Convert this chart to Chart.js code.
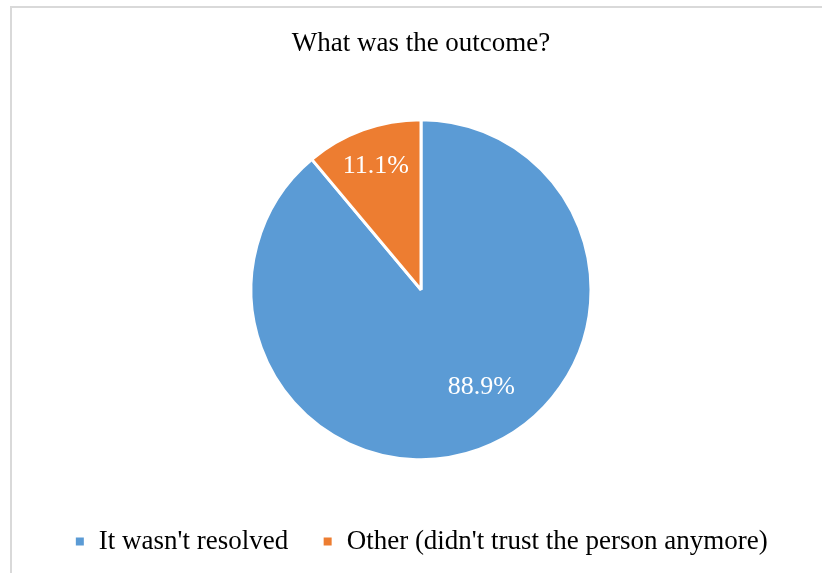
<!DOCTYPE html>
<html>
<head>
<meta charset="utf-8">
<script src="https://cdn.jsdelivr.net/npm/chart.js@4/dist/chart.umd.min.js"></script>
<style>
  html, body { margin: 0; padding: 0; background: #fff; }
  #wrap { position: relative; width: 822px; height: 573px; overflow: hidden; }
  #frame { position: absolute; left: 10px; top: 6px; width: 900px; height: 700px; border: 2px solid #d9d9d9; box-sizing: border-box; }
  #cv { position: absolute; left: 0; top: 0; }
</style>
</head>
<body>
<div id="wrap">
  <div id="frame"></div>
  <canvas id="cv" width="822" height="573"></canvas>
</div>
<script>
const chartTitle = 'What was the outcome?';
const categories = ["It wasn't resolved", "Other (didn't trust the person anymore)"];
const shares = [88.9, 11.1];
const sliceColors = ['#5B9BD5', '#ED7D31'];

const serif = '"Liberation Serif", "Times New Roman", serif';

// white percentage labels inside each slice
const sliceLabels = {
  id: 'sliceLabels',
  afterDatasetsDraw(chart, args, opts) {
    const ctx = chart.ctx;
    const meta = chart.getDatasetMeta(0);
    ctx.save();
    ctx.font = '26px ' + serif;
    ctx.fillStyle = '#fff';
    ctx.textAlign = 'center';
    ctx.textBaseline = 'middle';
    meta.data.forEach((arc, i) => {
      const p = arc.getProps(['x', 'y', 'startAngle', 'endAngle', 'outerRadius'], true);
      const mid = (p.startAngle + p.endAngle) / 2 + (opts.turn[i] || 0);
      const r = p.outerRadius * opts.radius[i];
      ctx.fillText(shares[i].toFixed(1) + '%', p.x + Math.cos(mid) * r, p.y + Math.sin(mid) * r);
    });
    ctx.restore();
  }
};

new Chart(document.getElementById('cv'), {
  type: 'pie',
  data: {
    labels: categories,
    datasets: [{
      data: shares,
      backgroundColor: sliceColors,
      borderColor: '#fff',
      borderWidth: 3,
      hoverOffset: 0,
      radius: 170
    }]
  },
  options: {
    responsive: false,
    animation: false,
    layout: { padding: { left: 20, right: 0, top: 0, bottom: 8 } },
    plugins: {
      title: {
        display: true,
        text: chartTitle,
        color: '#000',
        font: { family: serif, size: 27, weight: 'normal' },
        padding: { top: 28, bottom: 25 }
      },
      legend: {
        position: 'bottom',
        labels: {
          color: '#000',
          font: { family: serif, size: 27 },
          boxWidth: 11,
          boxHeight: 11,
          padding: 34
        }
      },
      tooltip: { enabled: false },
      sliceLabels: { radius: [0.675, 0.776], turn: [-0.204, 0] }
    }
  },
  plugins: [sliceLabels]
});
</script>
</body>
</html>
